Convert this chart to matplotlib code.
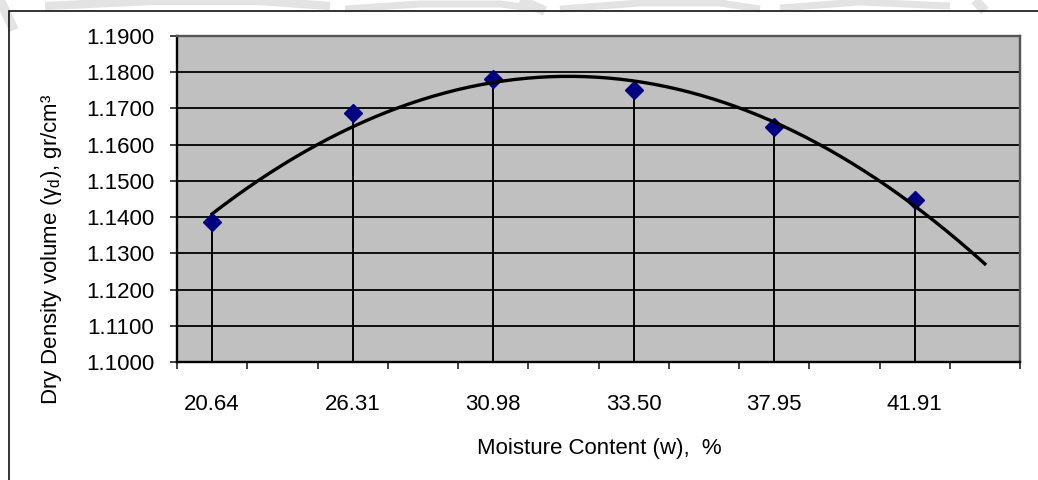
import numpy as np
import matplotlib
matplotlib.use("Agg")
import matplotlib.pyplot as plt
from matplotlib.patches import Rectangle
from matplotlib.lines import Line2D
from matplotlib.ticker import NullFormatter, FixedLocator, FixedFormatter

plt.rcParams['font.family'] = ['Liberation Sans', 'DejaVu Sans']
plt.rcParams['mathtext.fontset'] = 'custom'
plt.rcParams['mathtext.rm'] = 'Liberation Sans'
plt.rcParams['mathtext.it'] = 'Liberation Sans:italic'

# Data
categories = ["20.64", "26.31", "30.98", "33.50", "37.95", "41.91"]
dry_density = [1.1386, 1.1687, 1.1781, 1.1751, 1.1648, 1.1446]
y_ticks = [1.10, 1.11, 1.12, 1.13, 1.14, 1.15, 1.16, 1.17, 1.18, 1.19]

W, H = 1038, 480
fig = plt.figure(figsize=(W / 100, H / 100), dpi=100)
fig.patch.set_facecolor('white')

# faint watermark strokes above the chart box
def px_line(xs, ys, lw=9):
    fig.lines.append(Line2D([v / W for v in xs], [1 - v / H for v in ys],
                            transform=fig.transFigure, color='#E3E3E3',
                            linewidth=lw, solid_capstyle='butt', zorder=0))

px_line([0, 14], [0, 30], lw=7)
px_line([45, 150, 260, 330], [6, 1, 1, 6], lw=6)
px_line([345, 420, 500, 540], [9, 4, 4, 9], lw=5)
px_line([520, 545], [0, 11], lw=7)
px_line([560, 640, 720, 760], [9, 3, 3, 9], lw=5)
px_line([780, 860, 950], [8, 2, 6], lw=5)
px_line([975, 985], [0, 11], lw=7)

# chart area border
fig.patches.append(Rectangle((9 / W, -0.2), 1.2, (H - 11) / H + 0.2,
                             transform=fig.transFigure, fill=False,
                             edgecolor='#111111', linewidth=1.2))

ax = fig.add_axes([177 / W, 1 - 362 / H, (1020 - 177) / W, (362 - 36) / H])
ax.set_facecolor('#C0C0C0')

x = np.arange(1, len(categories) + 1)
y = np.array(dry_density)

# gridlines
for yt in y_ticks:
    ax.axhline(yt, color='black', linewidth=1.3, zorder=1)

# drop lines
ax.vlines(x, y_ticks[0], y, colors='black', linewidth=1.4, zorder=2)

# markers
ax.plot(x, y, linestyle='none', marker='D', markersize=9.3,
        markerfacecolor='#000080', markeredgecolor='#000080', zorder=3)

# polynomial (order 2) trendline, forward 0.5
coef = np.polyfit(x, y, 2)
xt = np.linspace(1, len(categories) + 0.5, 200)
ax.plot(xt, np.polyval(coef, xt), color='black', linewidth=2.4, zorder=4)

ax.set_xlim(0.75, len(categories) + 0.75)
ax.set_ylim(y_ticks[0], y_ticks[-1])

ax.set_yticks(y_ticks)
ax.set_yticklabels([f"{v:.4f}" for v in y_ticks])

major_x = np.arange(0.75, len(categories) + 0.76, 0.5)
ax.xaxis.set_major_locator(FixedLocator(major_x))
ax.xaxis.set_major_formatter(NullFormatter())
ax.xaxis.set_minor_locator(FixedLocator(x))
ax.xaxis.set_minor_formatter(FixedFormatter(categories))

ax.tick_params(axis='x', which='major', direction='out', length=5,
               width=1.2, color='#222222')
ax.tick_params(axis='x', which='minor', length=0, pad=23, labelsize=16)
ax.tick_params(axis='y', direction='out', length=5, width=1.2,
               color='#222222', pad=11.5, labelsize=16)

for s in ['left', 'bottom']:
    ax.spines[s].set_color('black')
    ax.spines[s].set_linewidth(1.7)
for s in ['top', 'right']:
    ax.spines[s].set_color('#555555')
    ax.spines[s].set_linewidth(1.7)

fig.text(599 / W, 1 - 454 / H, "Moisture Content (w),  %", ha='center',
         va='baseline', fontsize=16)
fig.text(52 / W, 1 - 249 / H, r"Dry Density volume (γ$_\mathregular{d}$), gr/cm³",
         ha='center', va='center', rotation=90, fontsize=16)

fig.savefig("out.png", dpi=100)
